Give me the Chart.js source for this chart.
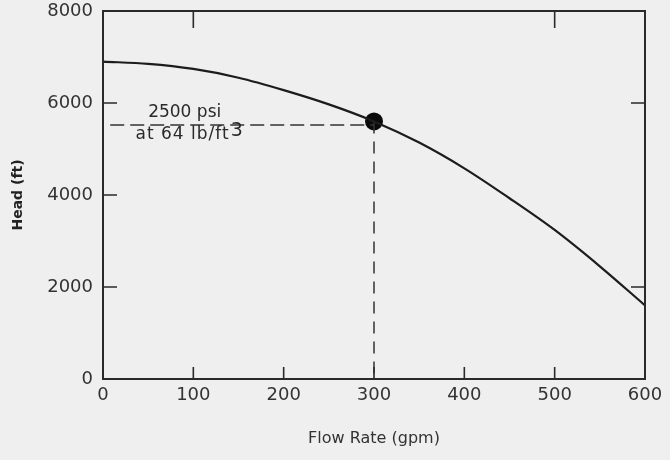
<!DOCTYPE html>
<html>
<head>
<meta charset="utf-8">
<script src="https://cdn.jsdelivr.net/npm/chart.js@4/dist/chart.umd.min.js"></script>
<style>
  html, body { margin: 0; padding: 0; background: #efefef; }
  #c { display: block; }
</style>
</head>
<body>
<canvas id="c" width="670" height="460"></canvas>
<script>
// ---- data ----
const flowRates = [0, 50, 100, 150, 200, 250, 300, 350, 400, 450, 500, 550, 600];
const heads     = [6900, 6850, 6740, 6550, 6280, 5970, 5600, 5140, 4580, 3930, 3240, 2450, 1600];
const designFlow = 300;
const designHead = 5600;
const refLineHead = 5520;
const refLineStart = 8;
const xTickValues = [0, 100, 200, 300, 400, 500, 600];
const yTickValues = [0, 2000, 4000, 6000, 8000];
const topTickValues = [100, 500];
const rightTickValues = [2000, 6000];
const annotationLine1 = "2500 psi";
const annotationLine2 = "at 64 lb/ft";
const annotationSup = "3";
const xTitle = "Flow Rate (gpm)";
const yTitle = "Head (ft)";

const ink = '#2a2a2a';

const bgPlugin = {
  id: 'bg',
  beforeDraw(chart) {
    const ctx = chart.ctx;
    ctx.save();
    ctx.fillStyle = '#efefef';
    ctx.fillRect(0, 0, chart.width, chart.height);
    ctx.restore();
  }
};

const framePlugin = {
  id: 'frame',
  afterDraw(chart) {
    const { ctx, chartArea: a, scales } = chart;
    const xs = scales.x, ys = scales.y;
    ctx.save();
    ctx.strokeStyle = ink;
    ctx.lineWidth = 2;
    ctx.strokeRect(a.left, a.top, a.right - a.left, a.bottom - a.top);
    ctx.lineWidth = 1.6;
    ctx.beginPath();
    xTickValues.forEach(v => {
      if (v === xs.min || v === xs.max) return;
      const px = xs.getPixelForValue(v);
      ctx.moveTo(px, a.bottom); ctx.lineTo(px, a.bottom - 12);
    });
    yTickValues.forEach(v => {
      if (v === ys.min || v === ys.max) return;
      const py = ys.getPixelForValue(v);
      ctx.moveTo(a.left, py); ctx.lineTo(a.left + 14, py);
    });
    topTickValues.forEach(v => {
      const px = xs.getPixelForValue(v);
      ctx.moveTo(px, a.top); ctx.lineTo(px, a.top + 17);
    });
    rightTickValues.forEach(v => {
      const py = ys.getPixelForValue(v);
      ctx.moveTo(a.right, py); ctx.lineTo(a.right - 14, py);
    });
    ctx.stroke();
    ctx.restore();
  }
};

const annotationPlugin = {
  id: 'annot',
  afterDatasetsDraw(chart) {
    const { ctx, scales } = chart;
    const xs = scales.x, ys = scales.y;
    ctx.save();
    ctx.fillStyle = ink;
    ctx.font = '17px "DejaVu Sans"';
    ctx.textBaseline = 'middle';
    ctx.textAlign = 'left';
    const x1 = xs.getPixelForValue(50);
    const y1 = ys.getPixelForValue(5800);
    ctx.fillText(annotationLine1, x1, y1);
    const x2 = xs.getPixelForValue(36);
    const y2 = ys.getPixelForValue(5310);
    ctx.letterSpacing = '1px';
    ctx.fillText(annotationLine2, x2, y2);
    const w = ctx.measureText(annotationLine2).width;
    ctx.letterSpacing = '0px';
    ctx.font = '19px "DejaVu Sans"';
    ctx.fillText(annotationSup, x2 + w + 1, y2 - 4);
    ctx.restore();
  }
};

new Chart(document.getElementById('c'), {
  type: 'line',
  data: {
    datasets: [
      {
        label: 'Head',
        data: flowRates.map((q, i) => ({ x: q, y: heads[i] })),
        borderColor: '#1c1c1c',
        borderWidth: 2.2,
        pointRadius: 0,
        cubicInterpolationMode: 'monotone',
        fill: false
      },
      {
        label: 'h-ref',
        data: [{ x: refLineStart, y: refLineHead }, { x: designFlow, y: refLineHead }],
        borderColor: '#333',
        borderWidth: 1.5,
        borderDash: [14, 6],
        pointRadius: 0,
        fill: false
      },
      {
        label: 'v-ref',
        data: [{ x: designFlow, y: designHead }, { x: designFlow, y: 0 }],
        borderColor: '#333',
        borderWidth: 1.5,
        borderDash: [12, 8],
        pointRadius: 0,
        fill: false
      },
      {
        label: 'point',
        data: [{ x: designFlow, y: designHead }],
        showLine: false,
        pointRadius: 9,
        pointBackgroundColor: '#0a0a0a',
        pointBorderColor: '#0a0a0a',
        pointBorderWidth: 0
      }
    ]
  },
  options: {
    responsive: false,
    devicePixelRatio: 1,
    animation: false,
    events: [],
    layout: { padding: { top: 11, right: 25, left: 0, bottom: 0 } },
    plugins: { legend: { display: false }, tooltip: { enabled: false } },
    scales: {
      x: {
        type: 'linear',
        min: 0, max: 600,
        afterBuildTicks(scale) { scale.ticks = xTickValues.map(v => ({ value: v })); },
        afterFit(scale) { scale.height = 81; },
        grid: { display: false, drawTicks: false },
        border: { display: false },
        ticks: {
          color: '#333',
          font: { family: 'DejaVu Sans', size: 18 },
          padding: 6,
          maxRotation: 0,
          callback: v => String(v)
        },
        title: {
          display: true,
          text: xTitle,
          color: '#333',
          font: { family: 'DejaVu Sans', size: 16 },
          padding: { top: 0, bottom: 12 }
        }
      },
      y: {
        min: 0, max: 8000,
        afterBuildTicks(scale) { scale.ticks = yTickValues.map(v => ({ value: v })); },
        afterFit(scale) { scale.width = 103; scale.paddingTop = 0; scale.paddingBottom = 0; },
        grid: { display: false, drawTicks: false },
        border: { display: false },
        ticks: {
          color: '#333',
          font: { family: 'DejaVu Sans', size: 18 },
          padding: 10,
          callback: v => String(v)
        },
        title: {
          display: true,
          text: yTitle,
          color: '#222',
          font: { family: 'DejaVu Sans', size: 14, weight: 'bold' },
          padding: { top: 10, bottom: 0 }
        }
      }
    }
  },
  plugins: [bgPlugin, framePlugin, annotationPlugin]
});
</script>
</body>
</html>
